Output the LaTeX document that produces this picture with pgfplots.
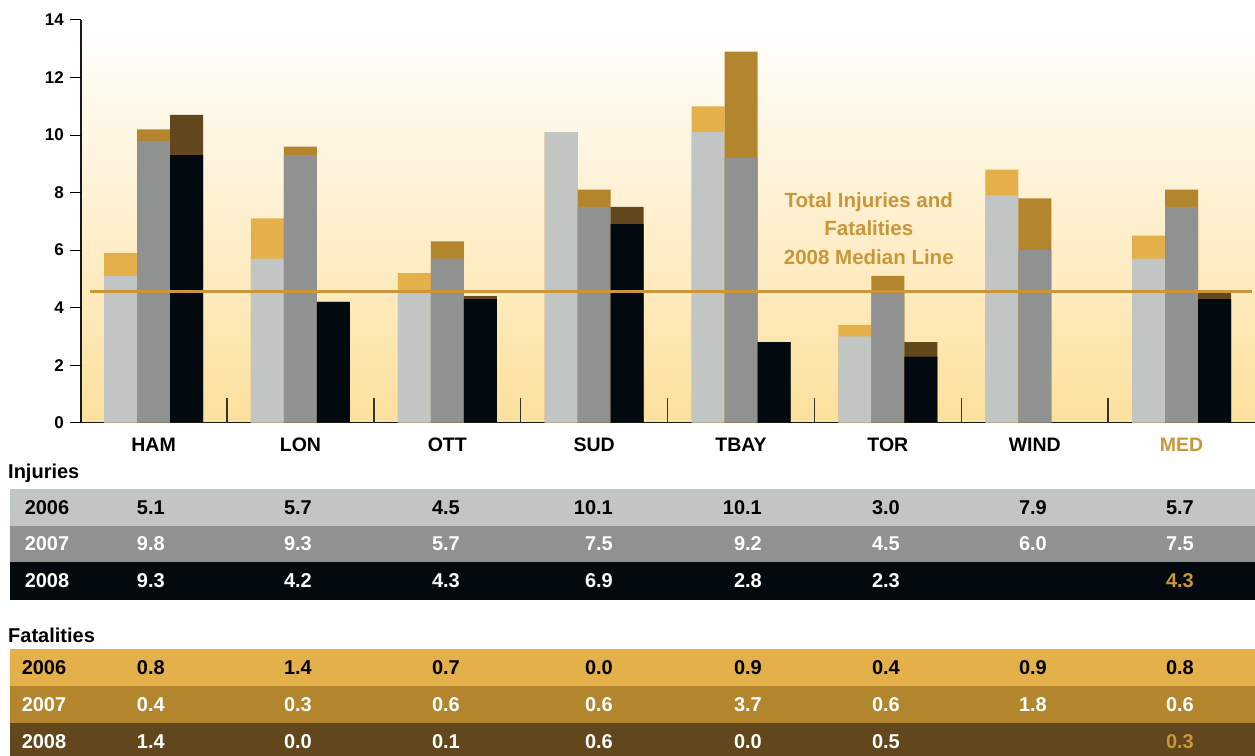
\documentclass[border=0pt]{standalone}
\usepackage{pgfplots}
\pgfplotsset{compat=1.18}
\usepackage{pgfplotstable}
\usepackage{fontspec}
\setmainfont{Liberation Sans}

\definecolor{injA}{HTML}{C1C6C5}
\definecolor{injB}{HTML}{8F9291}
\definecolor{injC}{HTML}{020A10}
\definecolor{fatA}{HTML}{E4B04A}
\definecolor{fatB}{HTML}{B3862D}
\definecolor{fatC}{HTML}{61471B}
\definecolor{medgold}{HTML}{C9963A}
\definecolor{bgbot}{HTML}{FDE09C}

% injuries (i) and fatalities (f) per city, 2006-2008
\pgfplotstableread{
x  i6   i7   i8   f6   f7   f8
0  5.1  9.8  9.3  0.8  0.4  1.4
1  5.7  9.3  4.2  1.4  0.3  0.0
2  4.5  5.7  4.3  0.7  0.6  0.1
3  10.1 7.5  6.9  0.0  0.6  0.6
4  10.1 9.2  2.8  0.9  3.7  0.0
5  3.0  4.5  2.3  0.4  0.6  0.5
6  7.9  6.0  nan  0.9  1.8  nan
7  5.7  7.5  4.3  0.8  0.6  0.3
}\data

\newcommand\tabfont{\fontsize{20}{23}\selectfont\bfseries}
\newcommand\tabrow[3]{%
  \foreach \xx/\v in {#3} {\node[anchor=east, text=#2, font=\tabfont, inner sep=0pt] at (\xx pt,#1pt) {\v};}}

\begin{document}
\begin{tikzpicture}
\begin{axis}[
  at={(81pt,332.3pt)}, anchor=south west,
  scale only axis, width=1174pt, height=402.7pt,
  xmin=-0.494, xmax=7.5, ymin=0, ymax=14,
  axis lines*=left,
  axis line style={line width=1.4pt, black!90},
  ytick=\empty,
  xtick={0,...,7},
  xticklabels={HAM,LON,OTT,SUD,TBAY,TOR,WIND,\textcolor{medgold}{MED}},
  xtick style={draw=none},
  every x tick label/.append style={font=\fontsize{19.5}{22}\selectfont\bfseries,
    anchor=north, inner sep=0pt, text height=14pt, text depth=0pt, yshift=-10pt},
  axis background/.style={top color=white, bottom color=bgbot},
  ybar, bar width=33pt,
  clip=false,
]
\addplot[fill=fatA, draw=none, bar shift=-33pt] table[x=x, y expr=\thisrow{i6}+\thisrow{f6}] {\data};
\addplot[fill=injA, draw=none, bar shift=-33pt] table[x=x, y=i6] {\data};
\addplot[fill=fatB, draw=none, bar shift=0pt] table[x=x, y expr=\thisrow{i7}+\thisrow{f7}] {\data};
\addplot[fill=injB, draw=none, bar shift=0pt] table[x=x, y=i7] {\data};
\addplot[fill=fatC, draw=none, bar shift=33pt] table[x=x, y expr=\thisrow{i8}+\thisrow{f8}] {\data};
\addplot[fill=injC, draw=none, bar shift=33pt] table[x=x, y=i8] {\data};

% y ticks and labels (1 x unit = 146.86pt)
\pgfplotsinvokeforeach{0,2,4,6,8,10,12,14}{
  \draw[line width=1pt, black] (axis cs:-0.494,#1) -- (axis cs:-0.569,#1);
  \node[anchor=east, inner sep=0pt, font=\fontsize{17}{20}\selectfont\bfseries]
    at (axis cs:-0.610,#1) {#1};}

% group separators
\pgfplotsinvokeforeach{0.5,1.5,2.5,3.5,4.5,5.5,6.5}{
  \draw[line width=1.5pt, black!80] (axis cs:#1,0) -- (axis cs:#1,0.87);}

\draw[medgold, line width=3pt] (axis cs:-0.43,4.55) -- (axis cs:7.48,4.55);
\node[medgold, font=\fontsize{20.5}{28.5}\selectfont\bfseries, align=center]
  at (axis cs:4.87,6.75) {Total Injuries and\\Fatalities\\2008 Median Line};
\end{axis}

% table below the chart
\node[anchor=west, font=\tabfont, inner sep=0pt] at (8pt,282pt) {Injuries};
\node[anchor=west, font=\tabfont, inner sep=0pt] at (8pt,120pt) {Fatalities};

\fill[injA] (10pt,229pt) rectangle (1255pt,266pt);
\fill[injB] (10pt,193pt) rectangle (1255pt,229pt);
\fill[injC] (10pt,155pt) rectangle (1255pt,193pt);
\fill[fatA] (10pt,69pt) rectangle (1255pt,106pt);
\fill[fatB] (10pt,32pt) rectangle (1255pt,69pt);
\fill[fatC] (10pt,-5pt) rectangle (1255pt,32pt);

\node[font=\tabfont, inner sep=0pt] at (47pt,247.5pt) {2006};
\node[font=\tabfont, inner sep=0pt, white] at (47pt,211pt) {2007};
\node[font=\tabfont, inner sep=0pt, white] at (47pt,174pt) {2008};
\node[font=\tabfont, inner sep=0pt] at (44pt,87.5pt) {2006};
\node[font=\tabfont, inner sep=0pt, white] at (44pt,50.5pt) {2007};
\node[font=\tabfont, inner sep=0pt, white] at (44pt,13pt) {2008};

\tabrow{247.5}{black}{165/5.1,312/5.7,460/4.5,613/10.1,762/10.1,900/3.0,1047/7.9,1194/5.7}
\tabrow{211}{white}{165/9.8,312/9.3,460/5.7,613/7.5,762/9.2,900/4.5,1047/6.0,1194/7.5}
\tabrow{174}{white}{165/9.3,312/4.2,460/4.3,613/6.9,762/2.8,900/2.3,1194/{\textcolor{medgold}{4.3}}}
\tabrow{87.5}{black}{165/0.8,312/1.4,460/0.7,613/0.0,762/0.9,900/0.4,1047/0.9,1194/0.8}
\tabrow{50.5}{white}{165/0.4,312/0.3,460/0.6,613/0.6,762/3.7,900/0.6,1047/1.8,1194/0.6}
\tabrow{13}{white}{165/1.4,312/0.0,460/0.1,613/0.6,762/0.0,900/0.5,1194/{\textcolor{medgold}{0.3}}}

\pgfresetboundingbox
\path (0,0) rectangle (1255pt,755pt);
\end{tikzpicture}
\end{document}
